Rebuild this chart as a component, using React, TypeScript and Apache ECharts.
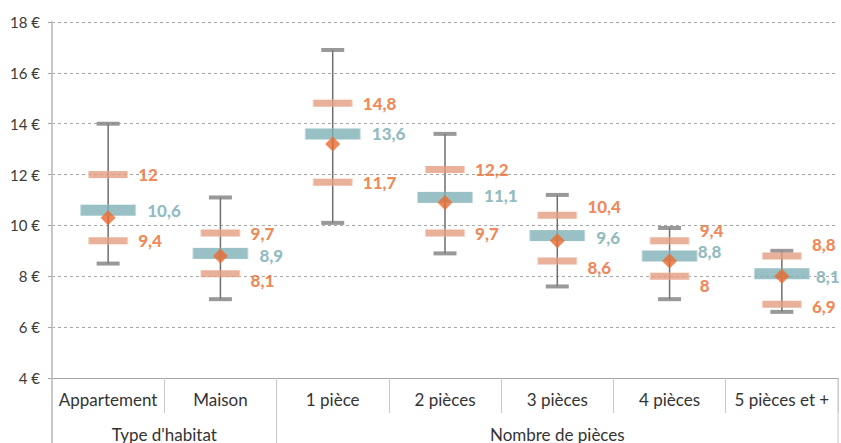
import React, { useEffect, useRef } from 'react';
import * as echarts from 'echarts';

const categories = ['Appartement', 'Maison', '1 pièce', '2 pièces', '3 pièces', '4 pièces', '5 pièces et +'];
const groupNames = ["Type d'habitat", 'Nombre de pièces'];
const groupStart = [0, 2];
const groupEnd = [1, 6];
const minValues = [8.5, 7.1, 10.1, 8.9, 7.6, 7.1, 6.6];
const q1Values = [9.4, 8.1, 11.7, 9.7, 8.6, 8.0, 6.9];
const medianValues = [10.6, 8.9, 13.6, 11.1, 9.6, 8.8, 8.1];
const meanValues = [10.3, 8.8, 13.2, 10.9, 9.4, 8.6, 8.0];
const q3Values = [12, 9.7, 14.8, 12.2, 10.4, 9.4, 8.8];
const maxValues = [14, 11.1, 16.9, 13.6, 11.2, 9.9, 9.0];

// label nudges (styling only)
const q3LabelDy = [0, 0, 0, 0, -9, -10, -11];
const medLabelDy = [0, 2, 0, -2, 2, -4, 3];
const medLabelDx = [0, 0, 0, 0, 0, -11, -5];
const q1LabelDy = [0, 7, 0, 0, 6, 9, 2];

const FONT = 'Lato, "Open Sans", sans-serif';
const ORANGE = '#EA6A2E';
const SALMON = '#E39D7F';
const TEAL = '#7FB1B6';
const TEAL_TEXT = '#76AAB0';
const GREY = '#7F7F7F';

const fmt = (v: number) => String(v).replace('.', ',');

export default function App() {
  const ref = useRef<HTMLDivElement>(null);
  useEffect(() => {
    if (!ref.current) return;
    const chart = echarts.init(ref.current, undefined, { renderer: 'svg' });
    const labelBase = {
      show: true,
      position: 'right',
      fontFamily: FONT,
      fontWeight: 900,
      fontSize: 17,
      formatter: (p: any) => fmt(Array.isArray(p.value) ? p.value[1] : p.value),
    };
    chart.setOption({
      animation: false,
      grid: { left: 52, top: 22, right: 3, bottom: 65 },
      xAxis: {
        type: 'category',
        data: categories,
        axisLine: { lineStyle: { color: '#A6A6A6', width: 1 } },
        axisTick: { show: true, interval: 0, length: 35, lineStyle: { color: '#C8C8C8' } },
        axisLabel: { interval: 0, color: '#333', fontFamily: FONT, fontSize: 17, margin: 13 },
        splitLine: { show: false },
      },
      yAxis: {
        type: 'value',
        min: 4,
        max: 18,
        interval: 2,
        axisLine: { show: true, lineStyle: { color: '#C8C8C8', width: 2 } },
        axisTick: { show: true, length: 4, lineStyle: { color: '#A6A6A6' } },
        axisLabel: { color: '#3A3A3A', fontFamily: FONT, fontSize: 15, margin: 12, formatter: (v: number) => v + ' €' },
        splitLine: { show: true, lineStyle: { color: '#A6A6A6', type: [3, 3], width: 1 } },
      },
      series: [
        {
          type: 'custom',
          z: 1,
          renderItem: (params: any, api: any) => {
            const i = api.value(0);
            const a = api.coord([i, api.value(1)]);
            const b = api.coord([i, api.value(2)]);
            return {
              type: 'line',
              shape: { x1: a[0], y1: a[1], x2: b[0], y2: b[1] },
              style: { stroke: '#6E6E6E', lineWidth: 1.5 },
            };
          },
          data: categories.map((_, i) => [i, minValues[i], maxValues[i]]),
        },
        {
          type: 'scatter', z: 2, symbol: 'rect', symbolSize: [23, 4],
          itemStyle: { color: GREY }, data: maxValues,
        },
        {
          type: 'scatter', z: 2, symbol: 'rect', symbolSize: [23, 4],
          itemStyle: { color: GREY }, data: minValues,
        },
        {
          type: 'scatter', z: 3, symbol: 'rect', symbolSize: [39, 7],
          itemStyle: { color: SALMON, borderColor: '#F3D3C5', borderWidth: 0.5 },
          data: q3Values.map((v, i) => ({ value: v, label: { offset: [0, q3LabelDy[i]] } })),
          label: { ...labelBase, color: ORANGE, distance: 10 },
        },
        {
          type: 'scatter', z: 3, symbol: 'rect', symbolSize: [39, 7],
          itemStyle: { color: SALMON, borderColor: '#F3D3C5', borderWidth: 0.5 },
          data: q1Values.map((v, i) => ({ value: v, label: { offset: [0, q1LabelDy[i]] } })),
          label: { ...labelBase, color: ORANGE, distance: 10 },
        },
        {
          type: 'scatter', z: 4, symbol: 'rect', symbolSize: [55, 11],
          itemStyle: { color: TEAL, borderColor: '#C5DCDE', borderWidth: 0.5 },
          data: medianValues.map((v, i) => ({ value: v, label: { offset: [medLabelDx[i], medLabelDy[i]] } })),
          label: { ...labelBase, color: TEAL_TEXT, distance: 11 },
        },
        {
          type: 'scatter', z: 5, symbol: 'diamond', symbolSize: [15, 15],
          itemStyle: { color: ORANGE }, data: meanValues,
        },
      ],
    });

    const y0 = chart.convertToPixel({ yAxisIndex: 0 }, 4) as number;
    const H = 443;
    const cx = (i: number) => chart.convertToPixel({ xAxisIndex: 0 }, i) as number;
    const step = cx(1) - cx(0);
    const graphics: any[] = [];
    const lineStyle = { stroke: '#C8C8C8', lineWidth: 1 };
    graphics.push({ type: 'line', shape: { x1: cx(0) - step / 2, y1: y0, x2: cx(0) - step / 2, y2: H }, style: { stroke: '#C8C8C8', lineWidth: 2 } });
    groupNames.forEach((name, g) => {
      const left = cx(groupStart[g]) - step / 2;
      const right = cx(groupEnd[g]) + step / 2;
      graphics.push({ type: 'line', shape: { x1: right, y1: y0, x2: right, y2: H }, style: lineStyle });
      graphics.push({
        type: 'text',
        x: (left + right) / 2,
        y: 434,
        style: { text: name, fill: '#333', font: `17px ${FONT}`, align: 'center', verticalAlign: 'middle' },
      });
    });
    chart.setOption({ graphic: graphics });

    return () => chart.dispose();
  }, []);
  return <div ref={ref} style={{ width: 841, height: 443, position: 'absolute', left: 0, top: 0 }} />;
}
